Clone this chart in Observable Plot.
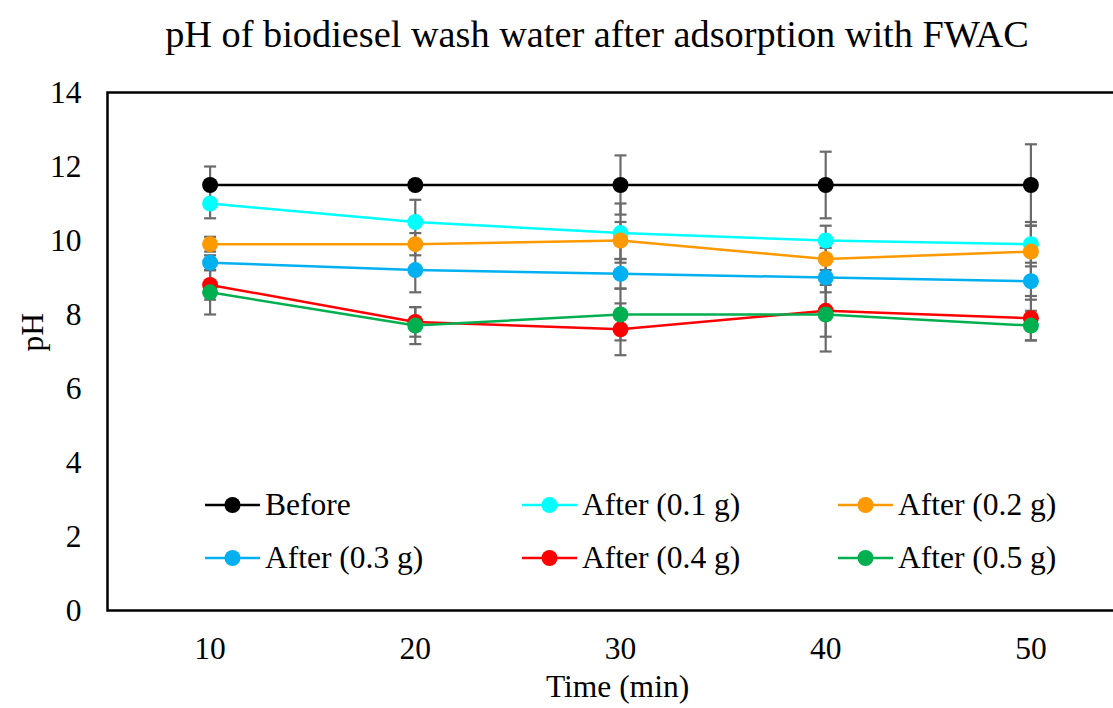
<!DOCTYPE html>
<html>
<head>
<meta charset="utf-8">
<script src="https://cdn.jsdelivr.net/npm/d3@7"></script>
<script src="https://cdn.jsdelivr.net/npm/@observablehq/plot@0.6"></script>
<style>
  body { margin: 0; background: #fff; }
  #wrap { position: relative; width: 1113px; height: 708px; overflow: hidden; font-family: "Liberation Serif", "Times New Roman", serif; }
  #title { position: absolute; left: 597px; top: 12px; transform: translateX(-50%); white-space: nowrap; font-size: 38.3px; line-height: 44px; color: #000; }
  #chart { position: absolute; left: 0; top: 70px; }
  .leg { position: absolute; display: flex; align-items: center; font-size: 31.5px; line-height: 36px; color: #000; white-space: nowrap; }
  .leg svg { margin-right: 5px; }
</style>
</head>
<body>
<div id="wrap">
  <div id="title">pH of biodiesel wash water after adsorption with FWAC</div>
  <div id="chart"></div>
</div>
<script>
const times = [10, 20, 30, 40, 50];
const seriesNames = ["Before", "After (0.1 g)", "After (0.2 g)", "After (0.3 g)", "After (0.4 g)", "After (0.5 g)"];
const seriesColors = ["#000000", "#00FFFF", "#FF9900", "#00B0F0", "#FF0000", "#00B050"];

const phBefore = [11.5, 11.5, 11.5, 11.5, 11.5];
const ph01 = [11.0, 10.5, 10.2, 10.0, 9.9];
const ph02 = [9.9, 9.9, 10.0, 9.5, 9.7];
const ph03 = [9.4, 9.2, 9.1, 9.0, 8.9];
const ph04 = [8.8, 7.8, 7.6, 8.1, 7.9];
const ph05 = [8.6, 7.7, 8.0, 8.0, 7.7];

const errBefore = [0.5, 0.1, 0.8, 0.9, 1.1];
const err01 = [0.4, 0.6, 0.8, 0.4, 0.6];
const err02 = [0.2, 0.3, 0.5, 0.3, 0.7];
const err03 = [0.2, 0.6, 0.4, 0.4, 0.5];
const err04 = [0.4, 0.4, 0.7, 0.7, 0.6];
const err05 = [0.6, 0.5, 0.7, 1.0, 0.4];

const yTicks = [0, 2, 4, 6, 8, 10, 12, 14];

const values = [phBefore, ph01, ph02, ph03, ph04, ph05];
const errors = [errBefore, err01, err02, err03, err04, err05];

const rows = [];
seriesNames.forEach((s, i) => {
  times.forEach((t, j) => {
    rows.push({series: s, time: t, ph: values[i][j], lo: values[i][j] - errors[i][j], hi: values[i][j] + errors[i][j]});
  });
});
const caps = rows.flatMap(d => [{time: d.time, v: d.lo}, {time: d.time, v: d.hi}]);

const capSymbol = { draw(ctx) { ctx.moveTo(-6, 0); ctx.lineTo(6, 0); } };
const font = '"Liberation Serif", "Times New Roman", serif';

const chart = Plot.plot({
  width: 1113,
  height: 638,
  marginLeft: 107,
  marginRight: -20,
  marginTop: 22,
  marginBottom: 98,
  style: { fontFamily: font, fontSize: "31.5px", color: "#000", background: "transparent" },
  x: { domain: [5, 55] },
  y: { domain: [0, 14] },
  color: { domain: seriesNames, range: seriesColors },
  marks: [
    Plot.axisY({ ticks: yTicks, tickSize: 0, tickPadding: 26, label: null, fontSize: 31.5 }),
    Plot.axisX({ ticks: times, tickSize: 0, tickPadding: 26, label: null, fontSize: 31.5, tickFormat: d => String(d) }),
    Plot.ruleX(rows, { x: "time", y1: "lo", y2: "hi", stroke: "#6a6a6a", strokeWidth: 2.2 }),
    Plot.dot(caps, { x: "time", y: "v", symbol: capSymbol, stroke: "#6a6a6a", strokeWidth: 2.2, fill: "none" }),
    Plot.line(rows, { x: "time", y: "ph", z: "series", stroke: "series", strokeWidth: 2.5 }),
    Plot.dot(rows, { x: "time", y: "ph", fill: "series", r: 8 }),
    Plot.frame({ stroke: "#000", strokeWidth: 2.5 }),
    Plot.text(["Time (min)"], { frameAnchor: "bottom", dx: -3, dy: 86, fontSize: 31.5, fill: "#000" }),
    Plot.text(["pH"], { frameAnchor: "left", dx: -75, rotate: -90, fontSize: 31.5, fill: "#000" })
  ]
});
document.getElementById("chart").appendChild(chart);

// Legend (inside the plot area, as in the reference)
const legendPos = [[205, 505], [522, 505], [838, 505], [205, 558], [522, 558], [838, 558]];
const wrap = document.getElementById("wrap");
seriesNames.forEach((s, i) => {
  const div = document.createElement("div");
  div.className = "leg";
  div.style.left = legendPos[i][0] + "px";
  div.style.top = (legendPos[i][1] - 18) + "px";
  const c = seriesColors[i];
  div.innerHTML = `<svg width="55" height="20"><line x1="0" y1="10" x2="55" y2="10" stroke="${c}" stroke-width="2.5"/><circle cx="27.5" cy="10" r="8" fill="${c}"/></svg><span>${s}</span>`;
  wrap.appendChild(div);
});
</script>
</body>
</html>
